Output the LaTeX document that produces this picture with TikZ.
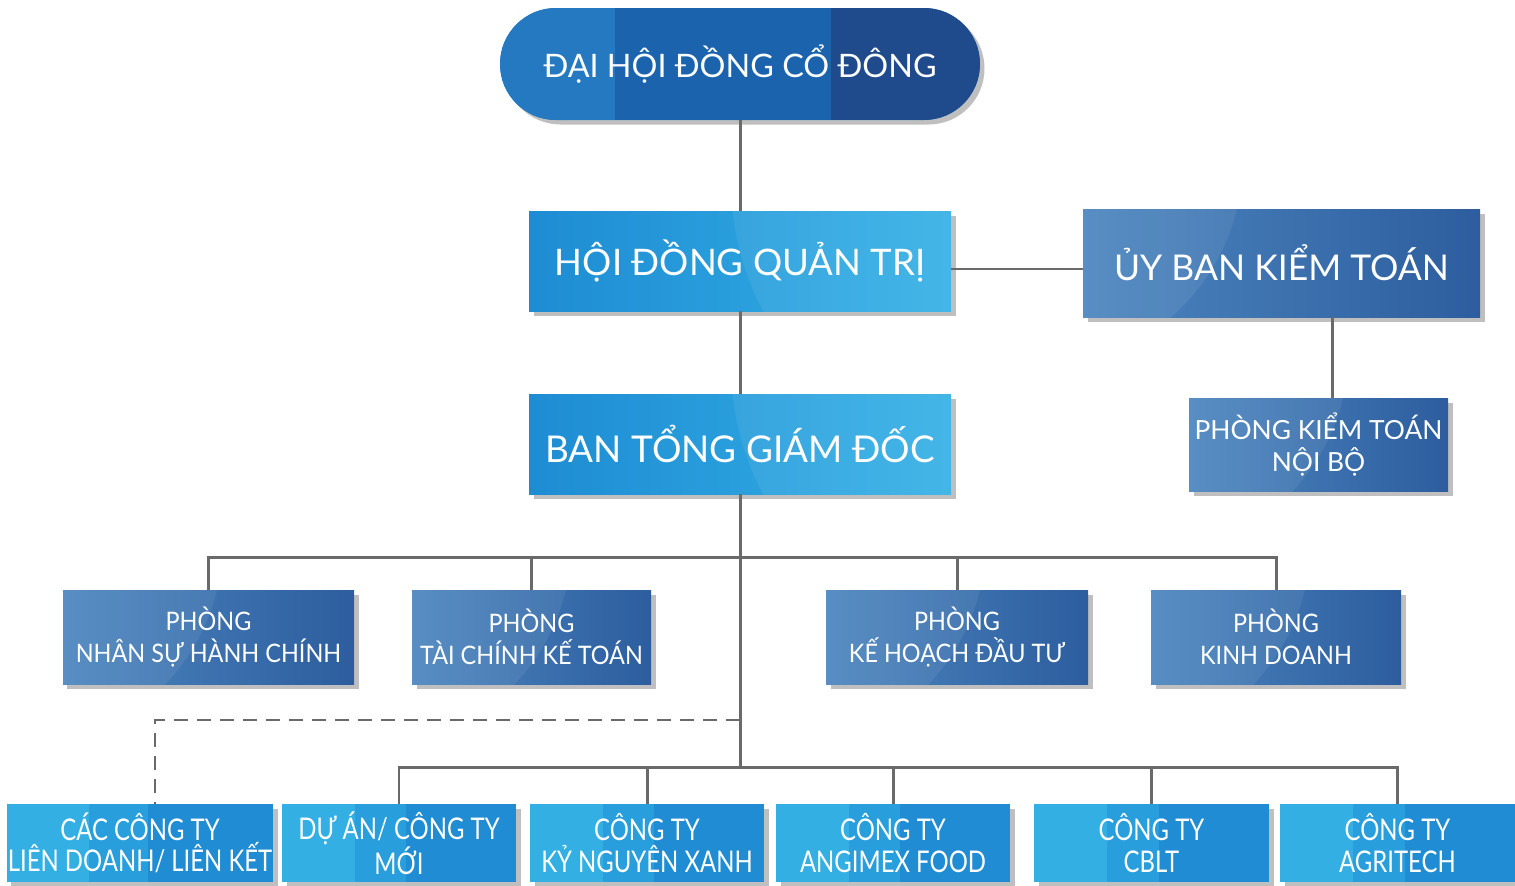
\documentclass[tikz,border=0pt]{standalone}
\usepackage{fontspec}
\setmainfont{Lato}
\newfontfamily\condfont[FakeStretch=0.8]{Lato}
\newfontfamily\semicond[FakeStretch=0.92]{Lato}
\usetikzlibrary{calc,shadows}
\definecolor{dhA}{HTML}{2479C0}
\definecolor{dhB}{HTML}{1C63AE}
\definecolor{dhC}{HTML}{1F4A8C}
\definecolor{lbL}{HTML}{1E8CD3}
\definecolor{lbR}{HTML}{35B1E6}
\definecolor{stL}{HTML}{4C86BF}
\definecolor{stR}{HTML}{2D5D9E}
\definecolor{btA}{HTML}{33AFE4}
\definecolor{btB}{HTML}{289EDC}
\definecolor{btC}{HTML}{1F8CD3}
\definecolor{linec}{HTML}{6A6A6A}
\tikzset{
  wh/.style 2 args={minimum width=#1*0.02cm, minimum height=#2*0.02cm},
  box/.style={text=white, align=center, inner sep=0pt, draw=none,
    drop shadow={shadow xshift=0.09cm, shadow yshift=-0.09cm, opacity=0.25, fill=black}},
  threeband/.style n args={5}{fill=#1, path picture={
    \fill[#1, sharp corners] (path picture bounding box.south west) rectangle ($(path picture bounding box.north west)!#4!(path picture bounding box.north east)$);
    \fill[#2, sharp corners] ($(path picture bounding box.south west)!#4!(path picture bounding box.south east)$) rectangle ($(path picture bounding box.north west)!#5!(path picture bounding box.north east)$);
    \fill[#3, sharp corners] ($(path picture bounding box.south west)!#5!(path picture bounding box.south east)$) rectangle (path picture bounding box.north east);
  }},
  lightbox/.style={box, left color=lbL, right color=lbR,
    path picture={\fill[white,opacity=0.07] ([xshift=1.2cm,yshift=0.6cm]path picture bounding box.north east) circle (5.6cm);}},
  steelbox/.style={box, left color=stL, right color=stR,
    path picture={\fill[white,opacity=0.07] ([xshift=-1.0cm,yshift=1.0cm]path picture bounding box.north west) circle (4.2cm);}},
  link/.style={draw=linec, line width=1.7pt},
  dlink/.style={draw=linec, line width=1.2pt, dash pattern=on 0.28cm off 0.18cm},
  topfont/.style={font=\fontsize{18.4}{21}\selectfont},
  midfont/.style={font=\semicond\fontsize{14.5}{18}\selectfont},
  lowfont/.style={font=\condfont\fontsize{17}{18}\selectfont},
}
\begin{document}
\begin{tikzpicture}[x=0.02cm,y=-0.02cm]
\useasboundingbox (0,0) rectangle (1515,886);
% top
\node[box, wh={480}{112}, rounded corners=1.12cm, threeband={dhA}{dhB}{dhC}{0.24}{0.69}, topfont] (dh) at (740,64) {ĐẠI HỘI ĐỒNG CỔ ĐÔNG};
\node[lightbox, wh={422}{100}, font=\fontsize{20.8}{24}\selectfont] (hd) at (740,261) {HỘI ĐỒNG QUẢN TRỊ};
\node[steelbox, wh={397}{108}, font=\fontsize{20.2}{24}\selectfont] (ub) at (1281.5,263) {ỦY BAN KIỂM TOÁN};
\node[steelbox, wh={259}{93}, font=\fontsize{15}{18}\selectfont] (pk) at (1318.5,444.5) {PHÒNG KIỂM TOÁN\\NỘI BỘ};
\node[lightbox, wh={422}{100}, font=\fontsize{21}{24}\selectfont] (bt) at (740,444) {BAN TỔNG GIÁM ĐỐC};
% departments
\node[steelbox, wh={291}{94}, midfont] (p1) at (208.5,637) {PHÒNG\\NHÂN SỰ HÀNH CHÍNH};
\node[steelbox, wh={239}{94}, midfont] (p2) at (531.5,637) {PHÒNG\\TÀI CHÍNH KẾ TOÁN};
\node[steelbox, wh={262}{94}, midfont] (p3) at (957,637) {PHÒNG\\KẾ HOẠCH ĐẦU TƯ};
\node[steelbox, wh={250}{94}, midfont] (p4) at (1276,637) {PHÒNG\\KINH DOANH};
% companies
\node[box, wh={266}{78}, threeband={btA}{btB}{btC}{0.31}{0.53}, lowfont] (c1) at (140,843) {CÁC CÔNG TY\\LIÊN DOANH/ LIÊN KẾT};
\node[box, wh={234}{78}, threeband={btA}{btB}{btC}{0.31}{0.53}, lowfont] (c2) at (399,843) {DỰ ÁN/ CÔNG TY\\MỚI};
\node[box, wh={234}{78}, threeband={btA}{btB}{btC}{0.31}{0.53}, lowfont] (c3) at (647,843) {CÔNG TY\\KỶ NGUYÊN XANH};
\node[box, wh={234}{78}, threeband={btA}{btB}{btC}{0.31}{0.53}, lowfont] (c4) at (893,843) {CÔNG TY\\ANGIMEX FOOD};
\node[box, wh={235}{78}, threeband={btA}{btB}{btC}{0.31}{0.53}, lowfont] (c5) at (1151.5,843) {CÔNG TY\\CBLT};
\node[box, wh={235}{78}, threeband={btA}{btB}{btC}{0.31}{0.53}, lowfont] (c6) at (1397.5,843) {CÔNG TY\\AGRITECH};
% junctions
\coordinate (j1) at (740,557);
\coordinate (jd) at (740,720);
\coordinate (j2) at (740,767);
% connectors
\draw[link] (dh.south) -- (hd.north);
\draw[link] (hd.south) -- (bt.north);
\draw[link] ([yshift=-0.16cm]hd.east) -- ([yshift=-0.16cm]hd.east -| ub.west);
\draw[link] ([xshift=0.27cm]pk.north) -- ([xshift=0.27cm]pk.north |- ub.south);
\draw[link] (bt.south) -- (j2);
\draw[link] (p1.north) -- (p1.north |- j1) -- (p4.north |- j1) -- (p4.north);
\draw[link] (p2.north) -- (p2.north |- j1);
\draw[link] (p3.north) -- (p3.north |- j1);
\draw[link] (c2.north) -- (c2.north |- j2) -- (c6.north |- j2) -- (c6.north);
\draw[link] (c3.north) -- (c3.north |- j2);
\draw[link] (c4.north) -- (c4.north |- j2);
\draw[link] (c5.north) -- (c5.north |- j2);
\draw[dlink] (jd) -| ([xshift=0.3cm]c1.north);
\end{tikzpicture}
\end{document}
